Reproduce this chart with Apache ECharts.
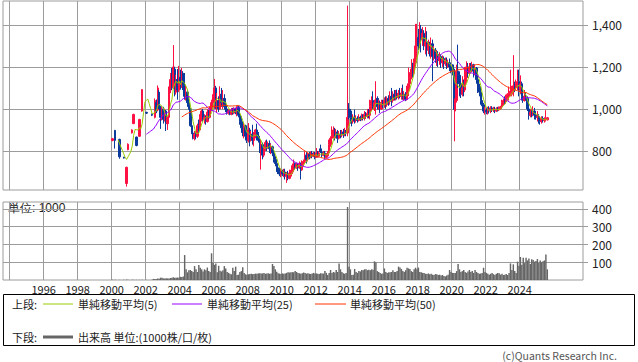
<!DOCTYPE html>
<html><head><meta charset="utf-8">
<script src="https://cdn.jsdelivr.net/npm/echarts@6/dist/echarts.min.js"></script>
<style>html,body{margin:0;padding:0;background:#fff}#c{width:638px;height:362px}</style>
</head><body><div id="c"></div>
<script>
// Monthly candles from Jan 2000; each row [open, close, low, high], null = no trade that month
const startYear = 2000;
const ohlc = [
// 2000
[850,858,846,862],null,[898,850,811,900],null,null,[855,772,763,858],null,null,[770,766,764,772],null,[645,722,630,725],[806,832,803,836],
// 2001
null,null,[886,900,883,903],[930,974,928,977],null,[866,826,822,868],null,[870,950,867,953],null,[990,1092,987,1094],null,null,
// 2002
[984,980,976,986],null,null,null,[975,970,966,978],null,[960,1040,955,1050],[1030,990,980,1045],[995,1100,990,1112],[1080,1010,1000,1090],[1010,960,905,1015],[955,1000,945,1010],
// 2003
[1000,950,930,1010],[950,990,940,1000],[990,930,895,995],[930,960,900,965],[960,1090,955,1107],[1090,1140,1075,1171],[1140,1100,1090,1195],[1100,1200,1095,1304],[1190,1080,1060,1200],[1080,1140,1068,1163],[1140,1090,1044,1190],[1090,1150,1080,1205],
// 2004
[1150,1120,1092,1187],[1120,1170,1100,1195],[1170,1110,1090,1180],[1110,1060,1044,1171],[1060,1080,1040,1110],[1080,1030,1010,1090],[1030,1000,997,1060],[1000,920,915,1005],[920,885,880,940],[885,860,855,900],[860,880,850,895],[880,870,855,890],
// 2005
[870,920,862,930],[920,900,886,949],[900,960,895,975],[960,990,940,997],[990,950,940,1000],[950,960,930,975],[960,940,925,970],[940,985,935,1000],[985,960,950,995],[960,1000,955,1010],[1000,1030,990,1044],[1030,1060,1010,1070],
// 2006
[1060,1100,1000,1143],[1100,1020,1000,1110],[1020,1040,981,1076],[1040,1000,985,1060],[1000,1070,997,1108],[1070,1030,1010,1100],[1030,1050,1000,1090],[1050,1010,997,1070],[1010,1000,985,1030],[1000,980,973,1020],[980,990,973,1000],[990,975,970,1000],
// 2007
[975,995,970,1005],[995,980,973,1005],[980,1000,975,1008],[1000,985,975,1005],[985,1010,965,1013],[1010,970,960,1015],[970,940,925,975],[940,910,886,965],[910,890,870,925],[890,920,860,933],[920,870,850,925],[870,850,838,890],
// 2008
[850,900,840,933],[900,860,822,910],[860,880,845,895],[880,850,830,925],[850,880,822,890],[880,900,860,905],[900,870,850,930],[870,850,840,890],[850,800,790,870],[790,830,711,854],[830,780,760,840],[780,810,770,820],
// 2009
[810,840,800,850],[840,820,800,854],[820,835,810,845],[835,810,790,850],[810,820,785,835],[820,790,775,825],[790,760,745,800],[760,740,727,775],[740,720,700,759],[720,700,690,740],[700,690,680,720],[690,705,675,715],
// 2010
[705,690,680,711],[690,700,675,715],[700,680,664,715],[680,690,648,700],[690,670,660,705],[670,695,665,711],[680,700,670,710],[700,730,690,740],[720,740,700,759],[740,720,710,745],[720,735,715,745],[735,720,705,740],
// 2011
[720,740,715,750],[740,710,664,745],[710,740,705,755],[740,750,725,759],[750,780,740,798],[780,760,740,795],[760,785,750,790],[785,770,760,795],[770,790,765,798],[790,775,765,800],[775,785,770,795],[785,770,760,795],
// 2012
[770,790,768,814],[790,775,770,800],[775,790,770,800],[810,795,790,830],[795,780,770,805],[780,790,775,800],[790,770,760,800],[770,780,765,790],[780,790,775,800],[790,830,775,854],[830,860,820,870],[860,880,850,917],
// 2013
[880,900,860,917],[900,870,850,910],[870,890,860,905],[890,860,838,900],[860,880,855,895],[880,875,860,900],[875,890,865,900],[890,880,862,905],[880,890,870,910],[890,885,870,900],[885,960,870,1492],[1000,990,950,1028],
// 2014
[990,960,930,1000],[960,940,917,975],[940,960,930,975],[960,945,930,997],[945,955,935,970],[955,945,935,965],[945,960,940,975],[960,950,942,968],[950,965,945,978],[965,955,945,975],[955,975,945,990],[975,965,955,985],
// 2015
[965,980,955,1000],[980,970,955,1000],[970,1010,950,1044],[1010,1040,990,1060],[1040,1000,997,1084],[1000,1030,990,1044],[1030,1050,973,1132],[1050,1010,997,1060],[1010,1030,995,1044],[1030,1000,981,1040],[1000,1030,995,1044],[1030,1020,1005,1044],
// 2016
[1020,1040,1005,1055],[1040,1020,1000,1060],[1020,1050,1010,1060],[1050,1035,1015,1065],[1035,1060,1020,1084],[1060,1040,1013,1100],[1040,1070,1030,1084],[1070,1050,1040,1090],[1050,1070,1040,1090],[1070,1055,1045,1092],[1055,1075,1045,1090],[1075,1060,1050,1100],
// 2017
[1060,1075,1044,1100],[1075,1055,1044,1116],[1055,1070,1040,1085],[1070,1045,1037,1080],[1045,1090,1040,1110],[1090,1120,1061,1197],[1120,1150,1100,1175],[1150,1190,1141,1237],[1190,1170,1150,1220],[1170,1220,1157,1240],[1220,1300,1200,1405],[1300,1340,1285,1405],
// 2018
[1340,1300,1281,1381],[1300,1380,1290,1413],[1380,1330,1269,1400],[1330,1360,1300,1390],[1360,1300,1280,1375],[1300,1320,1260,1390],[1320,1280,1250,1370],[1280,1310,1261,1330],[1310,1290,1250,1320],[1290,1310,1240,1340],[1310,1250,1132,1330],[1250,1280,1230,1300],
// 2019
[1280,1240,1220,1290],[1240,1260,1205,1280],[1260,1230,1200,1275],[1230,1250,1210,1270],[1250,1220,1195,1260],[1220,1240,1200,1255],[1240,1215,1190,1250],[1215,1230,1205,1245],[1230,1205,1190,1245],[1205,1220,1195,1235],[1220,1200,1180,1240],[1200,1190,1170,1215],
// 2020
[1190,1180,1160,1213],[1190,1000,997,1211],[990,1040,846,1050],[1040,1180,1030,1211],[1180,1160,1100,1306],[1160,1120,1060,1179],[1120,1070,1052,1150],[1070,1100,1060,1156],[1100,1090,1060,1140],[1090,1150,1080,1200],[1150,1200,1124,1227],[1200,1170,1150,1219],
// 2021
[1170,1200,1160,1219],[1200,1190,1170,1219],[1190,1210,1175,1225],[1210,1180,1150,1215],[1180,1195,1160,1211],[1195,1140,1120,1200],[1140,1100,1076,1171],[1100,1080,1060,1120],[1080,1040,1020,1108],[1040,1020,1013,1070],[1020,990,980,1029],[990,995,973,1010],
// 2022
[995,985,975,1005],[985,1000,973,1010],[1000,990,978,1013],[990,1005,980,1013],[1005,995,985,1013],[995,1000,985,1010],[1000,990,980,1010],[990,1000,985,1008],[1000,995,988,1010],[995,1005,990,1012],[1005,1010,995,1015],[1010,1030,1000,1044],
// 2023
[1030,1040,1015,1050],[1040,1035,1020,1060],[1035,1055,1025,1068],[1055,1070,1040,1075],[1060,1075,1040,1107],[1075,1085,1060,1187],[1070,1090,1060,1110],[1090,1110,1060,1256],[1110,1100,1080,1130],[1100,1120,1090,1140],[1110,1130,1090,1187],[1130,1090,1060,1187],
// 2024
[1090,1120,1070,1160],[1120,1060,1040,1130],[1060,1040,1029,1100],[1040,1060,1035,1090],[1060,1050,1040,1080],[1050,1000,990,1060],[1000,970,949,1044],[970,985,960,1000],[985,975,960,1000],[975,990,965,1013],[990,970,950,1005],[970,960,949,985],
// 2025
[960,965,940,990],[965,950,930,975],[950,940,925,960],[940,955,930,965],[955,945,935,965],[945,950,935,960],[950,955,940,994],[948,958,945,962]
];
// Monthly volume (thousands of shares)
const volume = [
2,0,2,0,0,1,0,0,1,0,2,1,
0,0,1,1,0,1,0,1,0,2,0,0,
1,0,0,0,1,6,6,5,8,7,13,12,
9,8,10,9,8,11,13,15,13,12,14,13,
18,17,19,140,60,43,55,56,50,45,78,60,
45,84,69,60,48,60,55,70,50,45,150,97,
85,93,43,80,52,48,55,78,65,45,40,35,
32,69,50,75,28,30,45,50,71,40,32,30,
32,34,35,33,34,36,35,37,38,36,37,40,
35,36,38,35,37,90,78,60,47,38,36,34,
37,35,36,40,43,42,43,44,43,50,45,40,
38,35,38,42,40,36,38,35,33,37,40,36,
37,35,34,38,36,36,50,40,28,40,56,40,
45,42,56,45,93,60,45,38,35,40,410,75,
60,28,30,62,45,40,50,48,56,55,60,60,
55,58,55,60,58,105,100,50,45,40,35,37,
65,45,40,43,43,45,55,45,45,50,75,70,
62,50,45,55,69,65,62,50,45,60,69,60,
70,45,43,40,40,35,33,37,32,35,30,28,
33,32,28,30,25,28,22,20,25,30,56,45,
40,40,40,50,90,60,45,50,56,45,40,48,
56,45,50,40,56,45,40,35,37,40,69,45,
40,35,30,35,40,33,28,35,40,38,30,35,
28,30,33,28,40,93,56,88,50,40,103,80,
129,85,125,95,125,110,121,90,116,112,103,107,
118,95,110,100,105,110,143,60
];
const maPeriods = [5, 25, 50];
const maColors = ['#99cc00', '#9900ff', '#ff3300'];
const maNames = ['単純移動平均(5)', '単純移動平均(25)', '単純移動平均(50)'];
const volumeName = '出来高 単位:(1000株/口/枚)';
const priceTicks = [800, 1000, 1200, 1400];
const volumeTicks = [100, 200, 300, 400];
const yearGrid = [1994,1996,1998,2000,2002,2004,2006,2008,2010,2012,2014,2016,2018,2020,2022,2024];
const yearLabels = [1996,1998,2000,2002,2004,2006,2008,2010,2012,2014,2016,2018,2020,2022,2024];

const UP = '#ff1144', DOWN = '#0a3a9c';
const t = ohlc.map((_, i) => startYear + (i + 0.5) / 12);
const candleData = [];
ohlc.forEach((d, i) => { if (d) candleData.push([t[i], d[0], d[1], d[2], d[3]]); });
const carried = []; let last = null;
ohlc.forEach(d => { if (d) last = d[1]; carried.push(last); });
function sma(p) {
  const out = [];
  for (let i = p - 1; i < carried.length; i++) {
    let s = 0; for (let k = i - p + 1; k <= i; k++) s += carried[k];
    out.push([t[i], s / p]);
  }
  return out;
}
const volData = volume.map((v, i) => [t[i], v]);

const FONT = "'Noto Sans CJK JP', 'DejaVu Sans', sans-serif";
const GRID = '#9c9c9c';
const X_MIN = 1993.606, X_MAX = 2027.724;

const chart = echarts.init(document.getElementById('c'), null, {renderer: 'svg'});
const xAxisBase = (gi, labels) => ({
  type: 'value', gridIndex: gi, min: X_MIN, max: X_MAX,
  axisLine: {show: false},
  axisTick: {show: false, customValues: yearGrid},
  axisLabel: labels ? {show: true, customValues: yearLabels, formatter: v => String(v), color: '#222', fontSize: 11, margin: 3, fontFamily: FONT}
                    : {show: false},
  splitLine: {show: true, lineStyle: {color: GRID, width: 1}}
});
const option = {
  animation: false,
  backgroundColor: '#fff',
  textStyle: {fontFamily: FONT},
  grid: [
    {left: 3, top: 1, width: 580, height: 189, show: true, borderColor: GRID, borderWidth: 1, backgroundColor: '#fff'},
    {left: 3, top: 202, width: 580, height: 78, show: true, borderColor: GRID, borderWidth: 1, backgroundColor: '#fff'}
  ],
  xAxis: [xAxisBase(0, false), xAxisBase(1, true)],
  yAxis: [
    {type: 'value', gridIndex: 0, position: 'right', min: 614, max: 1514,
     axisLine: {show: false},
     axisTick: {show: true, inside: false, length: 5, customValues: priceTicks, lineStyle: {color: GRID}},
     axisLabel: {customValues: priceTicks, formatter: v => v.toLocaleString('en-US'), margin: 9, color: '#222', fontSize: 12, fontFamily: FONT},
     splitLine: {show: true, lineStyle: {color: GRID, width: 1}}},
    {type: 'value', gridIndex: 1, position: 'right', min: 0, max: 438,
     axisLine: {show: false},
     axisTick: {show: true, length: 5, customValues: volumeTicks, lineStyle: {color: GRID}},
     axisLabel: {customValues: volumeTicks, margin: 9, color: '#222', fontSize: 12, fontFamily: FONT},
     splitLine: {show: true, lineStyle: {color: GRID, width: 1}}}
  ],
  series: [
    {type: 'candlestick', name: 'price', xAxisIndex: 0, yAxisIndex: 0,
     dimensions: ['t', 'open', 'close', 'lowest', 'highest'],
     encode: {x: 't', y: ['open', 'close', 'lowest', 'highest']},
     data: candleData, barWidth: 1.9,
     itemStyle: {color: UP, color0: DOWN, borderColor: UP, borderColor0: DOWN, borderWidth: 1}},
    ...maPeriods.map((p, k) => ({
      type: 'line', name: maNames[k], xAxisIndex: 0, yAxisIndex: 0, data: sma(p),
      symbol: 'none', showSymbol: false, z: 5,
      lineStyle: {color: maColors[k], width: 1}
    })),
    {type: 'bar', name: volumeName, xAxisIndex: 1, yAxisIndex: 1, data: volData,
     barWidth: 1.45, itemStyle: {color: '#666666'}}
  ],
  graphic: [
    {type: 'text', left: 8, top: 202, style: {text: '単位: 1000', fontSize: 12, fill: '#222', font: '12px ' + FONT}},
    {type: 'rect', shape: {x: 3.5, y: 294.5, width: 631, height: 51}, style: {fill: 'none', stroke: '#000', lineWidth: 1}},
    {type: 'text', x: 12, y: 304, style: {text: '上段:', font: '11px ' + FONT, fill: '#222', verticalAlign: 'middle'}},
    {type: 'line', shape: {x1: 43, y1: 304, x2: 73, y2: 304}, style: {stroke: maColors[0], lineWidth: 1}},
    {type: 'text', x: 78, y: 304, style: {text: maNames[0], font: '11px ' + FONT, fill: '#222', verticalAlign: 'middle'}},
    {type: 'line', shape: {x1: 172, y1: 304, x2: 202, y2: 304}, style: {stroke: maColors[1], lineWidth: 1}},
    {type: 'text', x: 207, y: 304, style: {text: maNames[1], font: '11px ' + FONT, fill: '#222', verticalAlign: 'middle'}},
    {type: 'line', shape: {x1: 315, y1: 304, x2: 346, y2: 304}, style: {stroke: maColors[2], lineWidth: 1}},
    {type: 'text', x: 350, y: 304, style: {text: maNames[2], font: '11px ' + FONT, fill: '#222', verticalAlign: 'middle'}},
    {type: 'text', x: 12, y: 337, style: {text: '下段:', font: '11px ' + FONT, fill: '#222', verticalAlign: 'middle'}},
    {type: 'rect', shape: {x: 43, y: 335.5, width: 30, height: 3}, style: {fill: '#666'}},
    {type: 'text', x: 78, y: 337, style: {text: volumeName, font: '11px ' + FONT, fill: '#222', verticalAlign: 'middle'}},
    {type: 'text', x: 617, y: 355, style: {text: '(c)Quants Research Inc.', font: '10.5px ' + FONT, fill: '#555', align: 'right', verticalAlign: 'middle'}}
  ]
};
chart.setOption(option);
</script></body></html>
